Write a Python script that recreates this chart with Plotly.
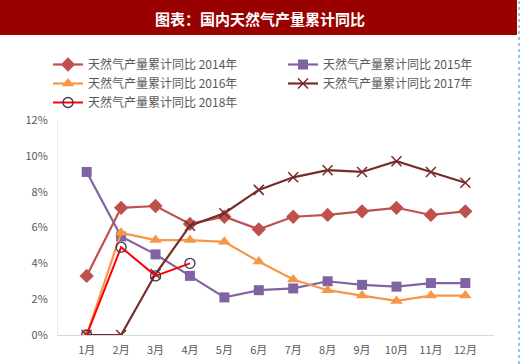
import plotly.graph_objects as go

months = ["1月", "2月", "3月", "4月", "5月", "6月", "7月", "8月", "9月", "10月", "11月", "12月"]
y2014 = [3.3, 7.1, 7.2, 6.2, 6.6, 5.9, 6.6, 6.7, 6.9, 7.1, 6.7, 6.9]
y2015 = [9.1, 5.5, 4.5, 3.3, 2.1, 2.5, 2.6, 3.0, 2.8, 2.7, 2.9, 2.9]
y2016 = [0.0, 5.7, 5.3, 5.3, 5.2, 4.1, 3.1, 2.5, 2.2, 1.9, 2.2, 2.2]
y2017 = [0.0, 0.0, 3.4, 6.1, 6.8, 8.1, 8.8, 9.2, 9.1, 9.7, 9.1, 8.5]
y2018 = [0.0, 4.9, 3.3, 4.0]
names = ["天然气产量累计同比 2014年", "天然气产量累计同比 2015年", "天然气产量累计同比 2016年",
         "天然气产量累计同比 2017年", "天然气产量累计同比 2018年"]
title_text = "图表：国内天然气产量累计同比"

FONT = "Noto Sans CJK SC"
fig = go.Figure()
fig.add_trace(go.Scatter(x=months, y=y2014, name=names[0], mode="lines+markers",
                         line=dict(color="#C0504D", width=2.2),
                         marker=dict(symbol="diamond", size=11, color="#C0504D")))
fig.add_trace(go.Scatter(x=months, y=y2015, name=names[1], mode="lines+markers",
                         line=dict(color="#8064A2", width=2.2),
                         marker=dict(symbol="square", size=10, color="#8064A2")))
fig.add_trace(go.Scatter(x=months, y=y2016, name=names[2], mode="lines+markers",
                         line=dict(color="#F79646", width=2.2),
                         marker=dict(symbol="triangle-up", size=11, color="#F79646")))
fig.add_trace(go.Scatter(x=months, y=y2017, name=names[3], mode="lines+markers",
                         line=dict(color="#772C2A", width=2.2),
                         marker=dict(symbol="x-thin", size=10, color="#772C2A",
                                     line=dict(width=1.5, color="#772C2A"))))
fig.add_trace(go.Scatter(x=months[:len(y2018)], y=y2018, name=names[4], mode="lines+markers",
                         line=dict(color="#FF0000", width=2),
                         marker=dict(symbol="circle-open", size=10, color="#403152",
                                     line=dict(width=1.3, color="#403152"))))

L, R, T, B = 58, 26, 120, 29
W, H = 520, 364
pw = W - L - R
ph = H - T - B

def px(xp):
    return (xp - L) / pw

def py(yp):
    return (H - B - yp) / ph

fig.update_layout(
    width=W, height=H,
    margin=dict(l=L, r=R, t=T, b=B, pad=0, autoexpand=False),
    paper_bgcolor="white", plot_bgcolor="white",
    font=dict(family=FONT, size=11, color="#595959"),
    showlegend=True,
    legend=dict(orientation="h", x=px(48), y=py(50), xanchor="left", yanchor="top",
                entrywidth=190, entrywidthmode="pixels", itemwidth=30,
                font=dict(family=FONT, size=12, color="#595959"),
                bgcolor="rgba(0,0,0,0)", tracegroupgap=0),
    xaxis=dict(type="category", showgrid=False, showline=True, linecolor="#D9D9D9",
               linewidth=1, ticks="", tickfont=dict(size=11, color="#595959"),
               ticklabelstandoff=5, fixedrange=True),
    yaxis=dict(range=[0, 12], dtick=2, ticksuffix="%", showgrid=False, showline=True,
               linecolor="#EDEDED", linewidth=1, zeroline=False, ticks="",
               tickfont=dict(size=11, color="#595959"), ticklabelstandoff=7,
               fixedrange=True),
    shapes=[
        dict(type="rect", xref="paper", yref="paper", x0=px(0), x1=px(517), y0=py(35), y1=py(0),
             fillcolor="#990000", line=dict(width=0), layer="below"),
        dict(type="line", xref="paper", yref="paper", x0=px(519), x1=px(519), y0=py(364), y1=py(0),
             line=dict(color="#9DC3E6", width=2, dash="dot")),
    ],
    annotations=[
        dict(text="<b>" + title_text + "</b>", xref="paper", yref="paper", x=px(260), y=py(18),
             xanchor="center", yanchor="middle", showarrow=False,
             font=dict(family=FONT, size=15, color="white")),
    ],
)

fig.write_html("out.html", config={"displayModeBar": False},
               post_script="document.body.style.margin='0';document.body.style.overflow='hidden';")
